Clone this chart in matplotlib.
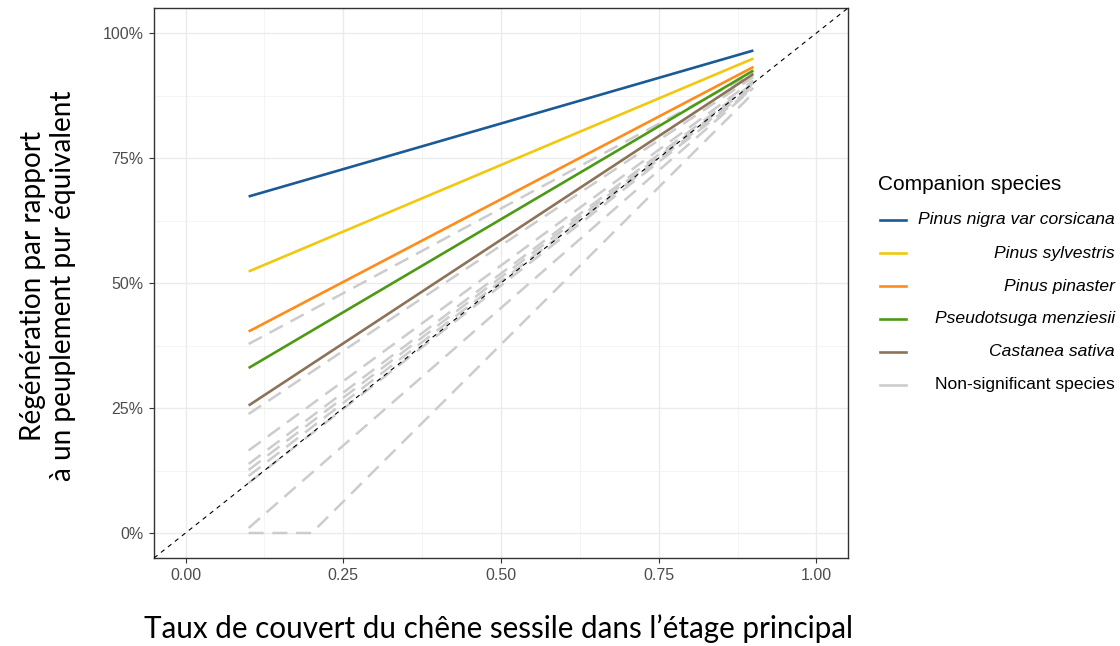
import matplotlib
matplotlib.use("Agg")
import matplotlib.pyplot as plt
from matplotlib.lines import Line2D
from matplotlib.ticker import FixedLocator, PercentFormatter, FormatStrFormatter

# significant companion species: straight fits from x=0.1 to x=0.9
x_fit = [0.1, 0.9]
species = ["Pinus nigra var corsicana", "Pinus sylvestris", "Pinus pinaster",
           "Pseudotsuga menziesii", "Castanea sativa"]
sp_start = [0.673, 0.523, 0.403, 0.330, 0.255]
sp_end = [0.965, 0.949, 0.932, 0.925, 0.918]
sp_colors = ["#1A5A96", "#F2C80F", "#FF8C1A", "#4C9A14", "#8C7358"]

# non-significant species
ns_start = [0.378, 0.238, 0.165, 0.138, 0.126, 0.114, 0.100, 0.010]
ns_end = [0.920, 0.912, 0.905, 0.900, 0.897, 0.893, 0.890, 0.890]
# one curve is clipped at 0
ns_clip_x = [0.1, 0.2, 0.9]
ns_clip_y = [0.0, 0.0, 0.880]
ns_color = "#CCCCCC"

fig = plt.figure(figsize=(11.2, 6.46), dpi=100)
ax = fig.add_axes([154 / 1120, 88 / 646, 694 / 1120, 550 / 646])

for a, b in zip(ns_start, ns_end):
    ax.plot(x_fit, [a, b], color=ns_color, lw=1.8, dashes=(6, 3.5), zorder=2)
ax.plot(ns_clip_x, ns_clip_y, color=ns_color, lw=1.8, dashes=(6, 3.5), zorder=2)

for a, b, c in zip(sp_start, sp_end, sp_colors):
    ax.plot(x_fit, [a, b], color=c, lw=1.9, solid_capstyle="butt", zorder=3)

ax.axline((0, 0), slope=1, color="black", lw=0.8, dashes=(4, 4), zorder=4)

ax.set_xlim(-0.05, 1.05)
ax.set_ylim(-0.05, 1.05)
ax.xaxis.set_major_locator(FixedLocator([0, 0.25, 0.5, 0.75, 1.0]))
ax.yaxis.set_major_locator(FixedLocator([0, 0.25, 0.5, 0.75, 1.0]))
ax.xaxis.set_minor_locator(FixedLocator([0.125, 0.375, 0.625, 0.875]))
ax.yaxis.set_minor_locator(FixedLocator([0.125, 0.375, 0.625, 0.875]))
ax.xaxis.set_major_formatter(FormatStrFormatter("%.2f"))
ax.yaxis.set_major_formatter(PercentFormatter(1.0, decimals=0))
ax.grid(which="major", color="#EBEBEB", lw=1.0, zorder=0)
ax.grid(which="minor", color="#F2F2F2", lw=0.6, zorder=0)
ax.set_axisbelow(True)
ax.tick_params(which="major", length=3.5, width=0.8, color="#333333",
               labelcolor="#4D4D4D", labelsize=11.5, pad=4)
ax.tick_params(which="minor", length=0)
for lab in ax.get_xticklabels() + ax.get_yticklabels():
    lab.set_fontfamily("Liberation Sans")
for s in ax.spines.values():
    s.set_color("#333333")
    s.set_linewidth(1.0)

fig.text(498 / 1120, 1 - 629 / 646,
         "Taux de couvert du chêne sessile dans l’étage principal",
         fontsize=21.3, family="Lato", ha="center", va="center")
fig.text(48 / 1120, 1 - 286 / 646,
         "Régénération par rapport\nà un peuplement pur équivalent",
         fontsize=20.2, family="Lato", ha="center", va="center",
         rotation=90, linespacing=1.22, multialignment="center")

# legend with right-aligned labels
fig.text(878 / 1120, 1 - 184 / 646, "Companion species", fontsize=15,
         family="Liberation Sans", va="center", ha="left")
leg_y = [220, 253, 286, 319, 352, 385]
leg_labels = species + ["Non-significant species"]
leg_colors = sp_colors + [ns_color]
for i, (lab, c) in enumerate(zip(leg_labels, leg_colors)):
    yy = 1 - leg_y[i] / 646
    fig.add_artist(Line2D([880 / 1120, 906 / 1120], [yy, yy], color=c, lw=1.9,
                          transform=fig.transFigure))
    fig.text(1115 / 1120, yy, lab, fontsize=12.6, family="Liberation Sans",
             style="normal" if i == len(species) else "italic",
             va="center", ha="right")

fig.savefig("out.png", dpi=100)
